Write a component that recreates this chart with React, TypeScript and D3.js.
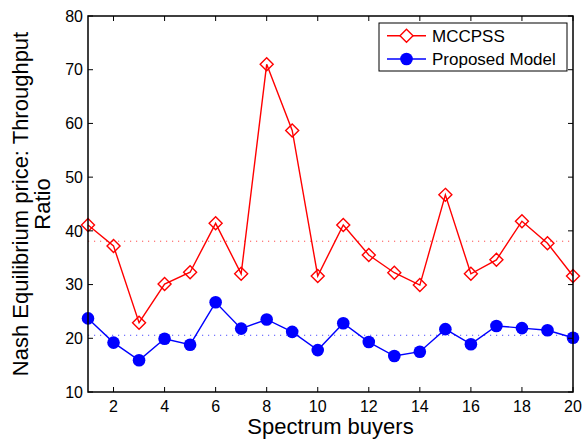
import React from "react";
import * as d3 from "d3";

// Spectrum buyer index
const buyers: number[] = d3.range(1, 21);

// Nash equilibrium price : throughput ratio per buyer
const mccpss: number[] = [
  41.1, 37.2, 22.9, 30.1, 32.3, 41.4, 32.0, 71.0, 58.7, 31.6,
  41.1, 35.5, 32.2, 29.9, 46.7, 32.0, 34.6, 41.8, 37.7, 31.6,
];
const proposed: number[] = [
  23.7, 19.2, 15.9, 19.9, 18.8, 26.7, 21.8, 23.5, 21.2, 17.8,
  22.8, 19.3, 16.7, 17.5, 21.7, 18.9, 22.3, 21.9, 21.5, 20.1,
];

const xTicks: number[] = [2, 4, 6, 8, 10, 12, 14, 16, 18, 20];
const yTicks: number[] = [10, 20, 30, 40, 50, 60, 70, 80];
const seriesNames: string[] = ["MCCPSS", "Proposed Model"];

const W = 585;
const H = 439;
const M = { left: 88, right: 573, top: 16, bottom: 392 };
const FONT = "Liberation Sans, Arial, Helvetica, sans-serif";
const RED = "#ff0000";
const BLUE = "#0000ff";

export default function App() {
  const x = d3.scaleLinear().domain([1, 20]).range([M.left, M.right]);
  const y = d3.scaleLinear().domain([10, 80]).range([M.bottom, M.top]);

  const line = d3
    .line<number>()
    .x((_, i) => x(buyers[i]))
    .y((d) => y(d));

  const meanRed = d3.mean(mccpss) as number;
  const meanBlue = d3.mean(proposed) as number;

  const diamond = (cx: number, cy: number, r: number) =>
    `M${cx},${cy - r}L${cx + r},${cy}L${cx},${cy + r}L${cx - r},${cy}Z`;

  const tickLen = 5;
  const legendX = 379;
  const legendY = 23;

  return (
    <svg
      width={W}
      height={H}
      style={{ position: "absolute", left: 0, top: 0, background: "#fff" }}
      fontFamily={FONT}
    >
      <rect x={0} y={0} width={W} height={H} fill="#fff" />

      {/* mean reference lines */}
      <line
        x1={M.left}
        x2={M.right}
        y1={y(meanRed)}
        y2={y(meanRed)}
        stroke={RED}
        strokeOpacity={0.7}
        strokeWidth={1}
        strokeDasharray="1.2 4.8"
      />
      <line
        x1={M.left}
        x2={M.right}
        y1={y(meanBlue)}
        y2={y(meanBlue)}
        stroke={BLUE}
        strokeOpacity={0.7}
        strokeWidth={1}
        strokeDasharray="1.2 4.8"
      />

      {/* series */}
      <path d={line(mccpss) ?? ""} fill="none" stroke={RED} strokeWidth={1.4} />
      {mccpss.map((v, i) => (
        <path
          key={`d${i}`}
          d={diamond(x(buyers[i]), y(v), 6.5)}
          fill="none"
          stroke={RED}
          strokeWidth={1.4}
        />
      ))}
      <path d={line(proposed) ?? ""} fill="none" stroke={BLUE} strokeWidth={1.4} />
      {proposed.map((v, i) => (
        <circle key={`c${i}`} cx={x(buyers[i])} cy={y(v)} r={6.3} fill={BLUE} />
      ))}

      {/* axes box */}
      <rect
        x={M.left}
        y={M.top}
        width={M.right - M.left}
        height={M.bottom - M.top}
        fill="none"
        stroke="#000"
        strokeWidth={1.5}
      />
      {xTicks.map((t) => (
        <g key={`xt${t}`}>
          <line x1={x(t)} x2={x(t)} y1={M.bottom} y2={M.bottom - tickLen} stroke="#000" strokeWidth={1} />
          <line x1={x(t)} x2={x(t)} y1={M.top} y2={M.top + tickLen} stroke="#000" strokeWidth={1} />
          <text x={x(t)} y={412} textAnchor="middle" fontSize={16} fill="#000">
            {t}
          </text>
        </g>
      ))}
      {yTicks.map((t) => (
        <g key={`yt${t}`}>
          <line x1={M.left} x2={M.left + tickLen} y1={y(t)} y2={y(t)} stroke="#000" strokeWidth={1} />
          <line x1={M.right} x2={M.right - tickLen} y1={y(t)} y2={y(t)} stroke="#000" strokeWidth={1} />
          <text x={83} y={y(t)} dy="0.36em" textAnchor="end" fontSize={16} fill="#000">
            {t}
          </text>
        </g>
      ))}

      {/* axis titles */}
      <text x={(M.left + M.right) / 2} y={434} textAnchor="middle" fontSize={22} fill="#000">
        Spectrum buyers
      </text>
      <g transform={`translate(28, ${(M.top + M.bottom) / 2}) rotate(-90)`}>
        <text x={0} y={0} textAnchor="middle" fontSize={22} fill="#000">
          Nash Equilibrium price: Throughput
        </text>
        <text x={0} y={22} textAnchor="middle" fontSize={22} fill="#000">
          Ratio
        </text>
      </g>

      {/* legend */}
      <rect x={legendX} y={legendY} width={188} height={48} fill="#fff" stroke="#000" strokeWidth={1} />
      {seriesNames.map((name, i) => {
        const ly = 35.7 + i * 23.3;
        return (
          <g key={name}>
            <line x1={387} x2={426} y1={ly} y2={ly} stroke={i === 0 ? RED : BLUE} strokeWidth={1.4} />
            {i === 0 ? (
              <path d={diamond(406.5, ly, 6.5)} fill="#fff" stroke={RED} strokeWidth={1.4} />
            ) : (
              <circle cx={406.5} cy={ly} r={6.3} fill={BLUE} />
            )}
            <text x={432} y={ly} dy="0.36em" fontSize={17} fill="#000">
              {name}
            </text>
          </g>
        );
      })}
    </svg>
  );
}
